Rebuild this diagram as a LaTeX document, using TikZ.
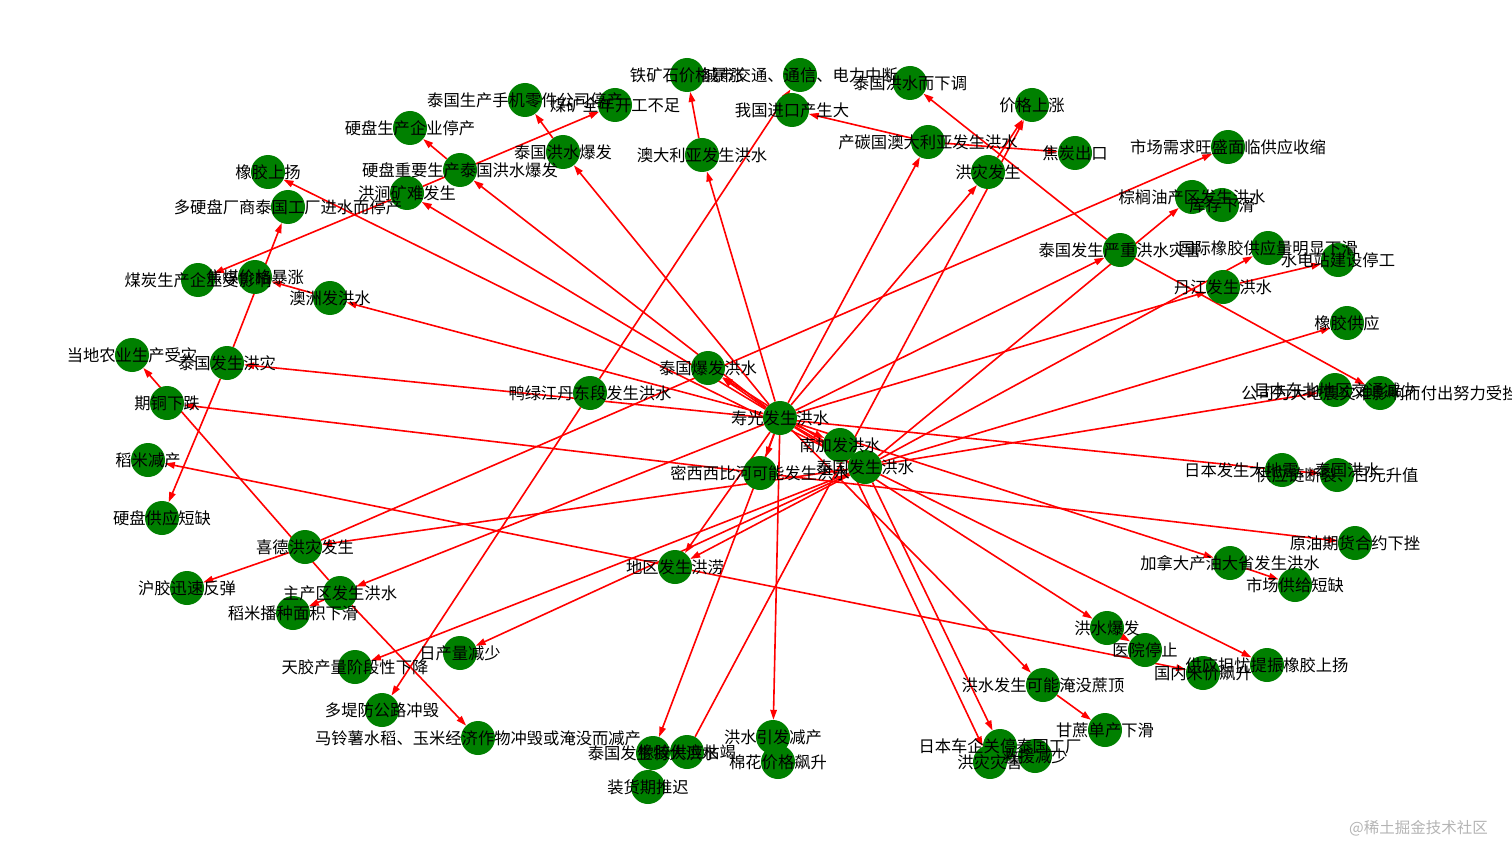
\documentclass[tikz,border=0pt]{standalone}
\usepackage{fontspec}
\setmainfont{Noto Sans CJK SC}
\usetikzlibrary{arrows.meta}
\definecolor{nodegreen}{HTML}{008000}
\definecolor{markgray}{HTML}{B4B4B4}
\pgfdeclarelayer{edges}
\pgfsetlayers{edges,main}

% name/x/y/label, pixel positions of the graph nodes
\def\nodelist{%
a/687/75/铁矿石价格暴涨, b/800/75/城市交通、通信、电力中断, c/910/83/泰国洪水而下调,
d/1032/105/价格上涨, e/792/110/我国进口产生大, f/928/142/产碳国澳大利亚发生洪水,
g/1075/153/焦炭出口, h/988/172/洪灾发生, i/1228/147/市场需求旺盛面临供应收缩,
j/525/100/泰国生产手机零件公司停产, k/615/105/煤矿全年开工不足, l/410/128/硬盘生产企业停产,
m/563/152/泰国洪水爆发, n/702/155/澳大利亚发生洪水, o/460/170/硬盘重要生产泰国洪水爆发,
p/407/193/洪涧矿难发生, q/268/172/橡胶上扬, r/288/207/多硬盘厂商泰国工厂进水而停产,
s/198/280/煤炭生产企业受影响, t/255/277/焦煤价格暴涨, u/330/298/澳洲发洪水,
v/132/355/当地农业生产受灾, w/227/363/泰国发生洪灾, x/167/403/期铜下跌,
y/148/460/稻米减产, z/162/518/硬盘供应短缺, aa/305/547/喜德洪灾发生,
ab/187/588/沪胶迅速反弹, ac/340/593/主产区发生洪水, ad/293/613/稻米播种面积下滑,
ae/355/667/天胶产量阶段性下降, af/460/653/日产量减少, ag/382/710/多堤防公路冲毁,
ah/478/738/马铃薯水稻、玉米经济作物冲毁或淹没而减产, ai/590/393/鸭绿江丹东段发生洪水,
aj/708/368/泰国爆发洪水, ak/780/418/寿光发生洪水, al/840/445/南加发洪水,
am/760/473/密西西比河可能发生洪水, an/865/467/泰国发生洪水, ao/675/567/地区发生洪涝,
ap/653/753/泰国发生特大洪水, ap2/687/752/橡胶供应枯竭, aq/648/787/装货期推迟,
ar/773/737/洪水引发减产, as/778/762/棉花价格飙升, at/1000/746/日本车企关停泰国工厂,
at2/990/762/洪灾灾害, at3/1035/756/救援减少, au/1105/730/甘蔗单产下滑,
av/1043/685/洪水发生可能淹没蔗顶, aw/1107/628/洪水爆发, ax/1145/650/医院停止,
ay/1203/673/国内米价飙升, az/1267/665/供应担忧提振橡胶上扬, ba/1230/563/加拿大产油大省发生洪水,
bb/1295/585/市场供给短缺, bc/1355/543/原油期货合约下挫, bd/1282/470/日本发生大地震、泰国洪水,
bd2/1337/475/供应链断裂、日元升值, be/1347/323/橡胶供应, bf/1335/390/日本东北地区交通减少,
bf2/1380/393/公司为大地震灾难影响而付出努力受挫, bg/1268/248/国际橡胶供应量明显下滑,
bh/1338/260/水电站建设停工, bi/1120/250/泰国发生严重洪水灾害, bj/1223/287/丹江发生洪水,
bk/1192/197/棕榈油产区发生洪水, bl/1222/205/库存下滑}

\begin{document}
\begin{tikzpicture}[x=1pt, y=-1pt,
    dot/.style={circle, fill=nodegreen, minimum size=34pt, inner sep=0pt},
    txt/.style={font=\fontsize{16.3}{17}\selectfont, inner sep=0pt, text=black},
    edge/.style={draw=red, line width=1.6pt, -{Triangle[length=10pt,width=6.5pt]}},
    wmark/.style={font=\fontsize{15.5}{16}\selectfont, text=markgray, inner sep=0pt}
]
\useasboundingbox (0,0) rectangle (1512,861);

% circles first, then the labels on top of them
\foreach \n/\x/\y/\t in \nodelist {
    \node[dot] (\n) at (\x,\y) {};
}
\foreach \n/\x/\y/\t in \nodelist {
    \node[txt] (\n-t) at (\n) {\t};
}

\begin{pgfonlayer}{edges}
\foreach \a/\b in {ak/n, n/a, ai/b, ai/ag, f/e, f/g, ak/f, ak/h, h/d, ap2/d,
    bi/c, aa/i, bi/bf2, an/bg, bj/bh, an/be, an/bf, bd/w, bd/bd2,
    ao/y, ao/ay, ac/v, ac/ah, ac/ad, aa/ab, p/k, p/s, ak/p, ak/aw, aw/ax,
    o/l, m/j, ak/m, ak/av, av/au, ak/o, an/q, ak/u, u/t, w/r, w/z,
    am/x, am/bc, ak/aj, an/aj, ak/al, ak/am, ak/an, ak/ap, ak/ar, ar/as,
    ap/aq, ba/bb, ak/ba, an/az, an/at, al/at2, ak/ao, an/ao, an/af, an/ae,
    ak/ac, an/aa, ak/bi, an/bk, bk/bl, ak/bj}
    \draw[edge] (\a) -- (\b);
\end{pgfonlayer}

\node[wmark, anchor=east] (mark) at (1488,828) {@稀土掘金技术社区};
\end{tikzpicture}
\end{document}
